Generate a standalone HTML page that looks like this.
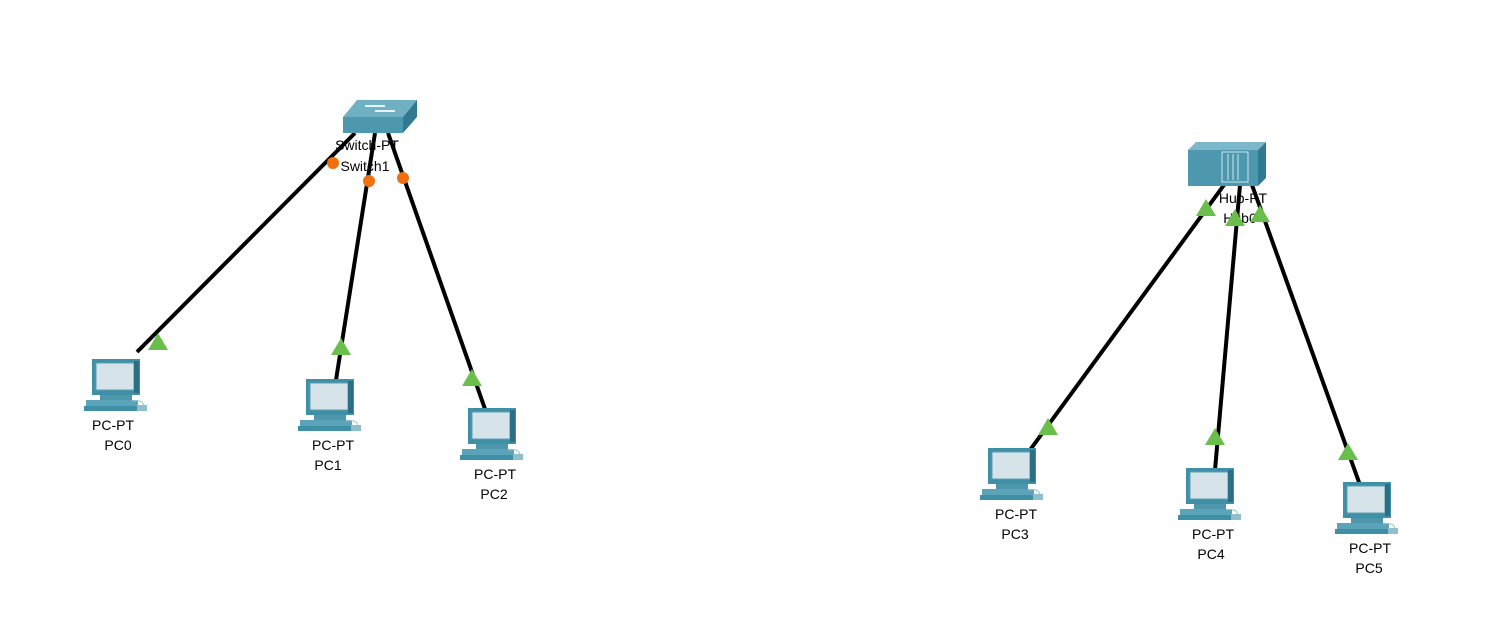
<!DOCTYPE html>
<html><head><style>body{margin:0;background:#fff}svg{display:block}text{font-family:"Liberation Sans",sans-serif;font-size:14px;fill:#000;text-anchor:middle}</style></head>
<body>
<svg width="1502" height="620" viewBox="0 0 1502 620">
<defs>
<g id="pc">
<rect x="0" y="0" width="48" height="36" fill="#3f8fa6"/>
<rect x="4" y="4" width="38" height="27" fill="#d6e4ea" stroke="#5a9fb3"/>
<rect x="42" y="2" width="5" height="32" fill="#2a6f85"/>
<rect x="8" y="36" width="32" height="5" fill="#4d96ab"/>
<rect x="-6" y="41" width="52" height="6" fill="#5ba3b8"/>
<rect x="-8" y="47" width="54" height="5" fill="#3f8fa6"/>
<path d="M40 42 q12 -2 12 6" stroke="#9cc" fill="none"/>
<rect x="45" y="46" width="10" height="6" fill="#8fbfcc"/>
</g>
<polygon id="tri" points="0,-9 10,8 -10,8" fill="#6abf4b"/>
</defs>
<g stroke="#000" stroke-width="4">
<line x1="355" y1="133" x2="137" y2="352"/>
<line x1="375" y1="133" x2="336" y2="380"/>
<line x1="388" y1="133" x2="485" y2="409"/>
<line x1="1224" y1="185" x2="1030" y2="450"/>
<line x1="1240" y1="185" x2="1215" y2="470"/>
<line x1="1252" y1="185" x2="1360" y2="485"/>
</g>
<!-- switch -->
<polygon points="343,117 357,100 417,100 403,117" fill="#6fb0c3"/>
<polygon points="343,117 403,117 403,133 343,133" fill="#4d98ae"/>
<polygon points="403,117 417,100 417,117 403,133" fill="#2f7a90"/>
<path d="M365 106h20M375 111h20" stroke="#e8f4f8" stroke-width="2"/>
<text x="367" y="150">Switch-PT</text>
<text x="365" y="171">Switch1</text>
<g fill="#f07010"><circle cx="333" cy="163" r="6"/><circle cx="369" cy="181" r="6"/><circle cx="403" cy="178" r="6"/></g>
<!-- hub -->
<polygon points="1188,150 1196,142 1266,142 1258,150" fill="#7cb8ca"/>
<rect x="1188" y="150" width="70" height="36" fill="#4d98ae"/>
<polygon points="1258,150 1266,142 1266,178 1258,186" fill="#2f7a90"/>
<rect x="1222" y="152" width="26" height="30" fill="none" stroke="#cfe6ee"/>
<path d="M1228 154v26M1233 154v26M1238 154v26" stroke="#cfe6ee"/>
<text x="1243" y="203">Hub-PT</text>
<text x="1240" y="223">Hub0</text>
<g>
<use href="#tri" x="158" y="342"/><use href="#tri" x="341" y="347"/><use href="#tri" x="472" y="378"/>
<use href="#tri" x="1206" y="208"/><use href="#tri" x="1235" y="218"/><use href="#tri" x="1260" y="214"/>
<use href="#tri" x="1048" y="427"/><use href="#tri" x="1215" y="437"/><use href="#tri" x="1348" y="452"/>
</g>
<use href="#pc" x="92" y="359"/><text x="113" y="430">PC-PT</text><text x="118" y="450">PC0</text>
<use href="#pc" x="306" y="379"/><text x="333" y="450">PC-PT</text><text x="328" y="470">PC1</text>
<use href="#pc" x="468" y="408"/><text x="495" y="479">PC-PT</text><text x="494" y="499">PC2</text>
<use href="#pc" x="988" y="448"/><text x="1016" y="519">PC-PT</text><text x="1015" y="539">PC3</text>
<use href="#pc" x="1186" y="468"/><text x="1213" y="539">PC-PT</text><text x="1211" y="559">PC4</text>
<use href="#pc" x="1343" y="482"/><text x="1370" y="553">PC-PT</text><text x="1369" y="573">PC5</text>
</svg>
</body></html>
